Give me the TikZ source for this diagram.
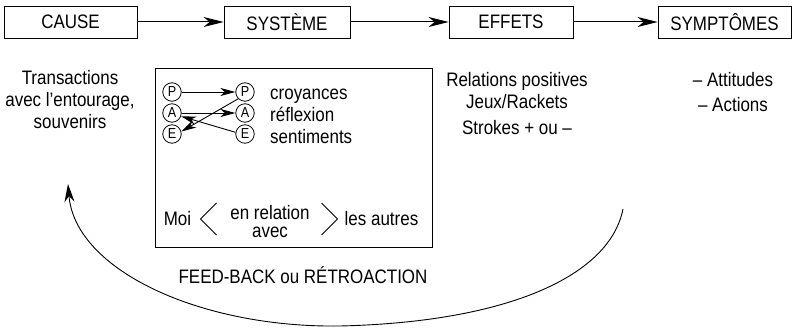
\documentclass[tikz,border=0pt]{standalone}
\usepackage{fontspec}
\setmainfont{Liberation Sans}[FakeStretch=0.87]
\usetikzlibrary{arrows.meta}
\begin{document}
\begin{tikzpicture}[x=1pt,y=-1pt,
  txt/.style={font=\fontsize{19.5}{22}\selectfont, inner sep=0pt, align=center},
  box/.style={draw, line width=0.9pt, minimum height=32pt, inner sep=0pt, font=\fontsize{19.5}{22}\selectfont},
  arr/.style={line width=1pt, -{Stealth[length=20pt,width=10pt,inset=6pt]}},
  sarr/.style={line width=0.9pt, -{Stealth[length=15pt,width=8pt,inset=4.5pt]}},
  circ/.style={draw, circle, line width=0.8pt, minimum size=18.5pt, inner sep=0pt, font=\fontsize{14.5}{14.5}\selectfont},
  brk/.style={line width=0.8pt}]
\useasboundingbox (0,0) rectangle (793,331);
% top row
\node[box, minimum width=133pt] (cause) at (70.5,22) {CAUSE};
\node[box, minimum width=126pt] (systeme) at (287,22) {SYSTÈME};
\node[box, minimum width=124pt] (effets) at (511,22) {EFFETS};
\node[box, minimum width=133pt] (sympt) at (724.5,22) {SYMPTÔMES};
\draw[arr] (cause) -- (systeme);
\draw[arr] (systeme) -- (effets);
\draw[arr] (effets) -- (sympt);
% texts under boxes
\node[txt] (causetxt) at (70,100) {Transactions\\avec l’entourage,\\souvenirs};
\node[txt] (effetstxt) at (517,104) {Relations positives\\Jeux/Rackets\\[4pt]Strokes + ou –};
\node[txt] (symptxt) at (733,92.5) {– Attitudes\\[3pt]– Actions};
% system box
\node[draw, line width=0.9pt, minimum width=277pt, minimum height=179pt, inner sep=0pt] (sysbox) at (293.5,157.5) {};
\node[circ] (PL) at (172,92) {P};
\node[circ] (AL) at (172,113) {A};
\node[circ] (EL) at (172,134) {E};
\node[circ] (PR) at (245,92) {P};
\node[circ] (AR) at (245,113) {A};
\node[circ] (ER) at (245,134) {E};
\draw[sarr] (PL) -- (PR);
\draw[sarr] (AL) -- (AR);
\draw[sarr] (PR.225) -- (EL.15);
\draw[sarr] (ER.170) -- (AL.-20);
\node[txt, anchor=west, align=left] (systtxt) at (270,116) {croyances\\réflexion\\sentiments};
\node[txt] (moi) at (177.5,219) {Moi};
\node[txt, font=\fontsize{19.5}{18}\selectfont] (rel) at (270,222) {en relation\\avec};
\node[txt] (autres) at (381.5,219) {les autres};
\draw[brk] (216.5,203) -- (200.5,219) -- (216.5,235);
\draw[brk] (321.5,203) -- (337.5,219) -- (321.5,235);
% feedback
\node[txt] (fb) at (303,275.5) {FEED-BACK ou RÉTROACTION};
\coordinate (fbstart) at (623,209);
\coordinate (fbend) at (68,184);
\draw[line width=0.9pt, -{Stealth[length=18pt,width=10pt,inset=6pt]}] (fbstart) .. controls (610,275) and (510,322) .. (340,326) .. controls (200,328) and (75,270) .. (fbend);
\end{tikzpicture}
\end{document}
